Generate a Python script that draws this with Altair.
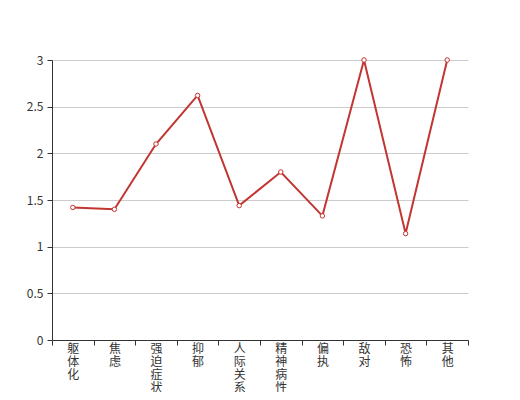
import altair as alt
import pandas as pd

categories = ["躯体化", "焦虑", "强迫症状", "抑郁", "人际关系敏感", "精神病性", "偏执", "敌对", "恐怖", "其他"]
values = [1.42, 1.40, 2.10, 2.62, 1.44, 1.80, 1.33, 3.0, 1.14, 3.0]

df = pd.DataFrame({"cat": categories, "val": values})

font = "Noto Sans CJK SC"

x = alt.X("cat:N", sort=None, title=None,
          scale=alt.Scale(paddingInner=0, paddingOuter=0),
          axis=alt.Axis(labelAngle=0, labelExpr="split(datum.label, '')",
                        labelBaseline="top", labelLineHeight=13,
                        tickBand="extent", tickSize=5, tickColor="#333",
                        domainColor="#333", labelColor="#333", labelFontSize=12,
                        labelFont=font, labelPadding=-2, grid=False))
y = alt.Y("val:Q", title=None,
          scale=alt.Scale(domain=[0, 3]),
          axis=alt.Axis(values=[0, 0.5, 1, 1.5, 2, 2.5, 3], format="~g",
                        tickSize=5, tickColor="#333", domainColor="#333",
                        labelColor="#333", labelFontSize=12, labelFont=font,
                        gridColor="#ccc", labelPadding=4))

line = alt.Chart(df).mark_line(color="#c23531", strokeWidth=2).encode(x=x, y=y)
pts = alt.Chart(df).mark_point(filled=True, fill="white", stroke="#c23531",
                                strokeWidth=1, size=20, opacity=1).encode(x=x, y=y)

chart = (line + pts).properties(
    width=416, height=280,
    autosize=alt.AutoSizeParams(type="none"),
    padding={"left": 44, "top": 52, "right": 44, "bottom": 52},
).configure_view(stroke=None).configure_axisX(labelLimit=0)

chart.save("out.html", embed_options={"renderer": "svg", "actions": False})
